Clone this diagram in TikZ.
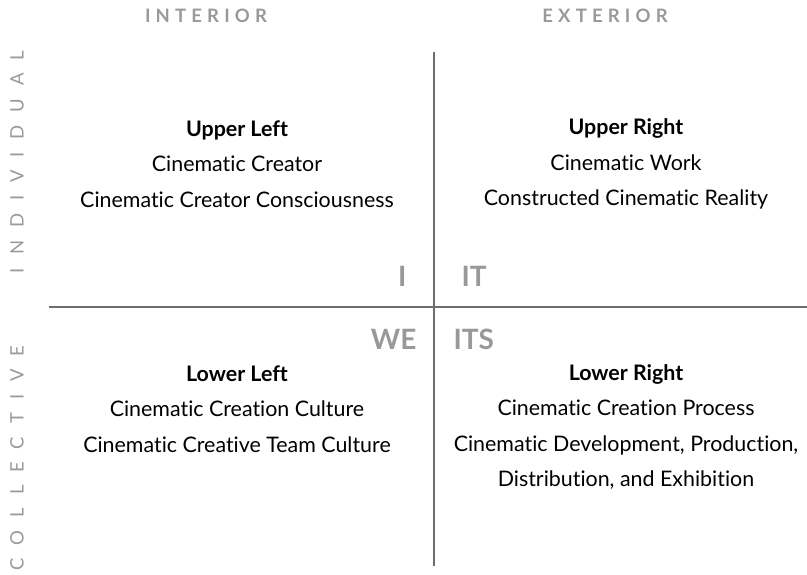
\documentclass[tikz,border=0pt]{standalone}
\usepackage{fontspec}
\setmainfont[RawFeature={-liga;-clig;-calt}]{Lato}
\newfontfamily\headfont[LetterSpace=28]{Lato}
\newfontfamily\sidefont[LetterSpace=70]{Lato}
\definecolor{labelgray}{HTML}{999999}
\definecolor{linegray}{HTML}{6E6E6E}

\begin{document}
\begin{tikzpicture}[x=1pt,y=-1pt,
  axis line/.style={draw=linegray,line width=1.6pt},
  head label/.style={text=labelgray,font=\headfont\fontsize{18.5}{20}\selectfont\bfseries},
  side label/.style={text=labelgray,rotate=90,font=\sidefont\fontsize{18.5}{20}\selectfont},
  quad label/.style={text=labelgray,font=\fontsize{28}{30}\selectfont\bfseries},
  quad text/.style={align=center,text=black,font=\fontsize{21.4}{35.5}\selectfont}]

  \useasboundingbox (0,0) rectangle (807,575);

  % axes
  \coordinate (top) at (434,52);
  \coordinate (bottom) at (434,566);
  \coordinate (left) at (49,307);
  \coordinate (right) at (807,307);
  \draw[axis line] (top) -- (bottom);
  \draw[axis line] (left) -- (right);

  % headings
  \node[head label] (interior) at (206,16) {INTERIOR};
  \node[head label] (exterior) at (605,16) {EXTERIOR};
  \node[side label] (individual) at (17,162) {INDIVIDUAL};
  \node[side label] (collective) at (17,458) {COLLECTIVE};

  % quadrant names
  \node[quad label,anchor=east] (i) at (410,276) {I};
  \node[quad label,anchor=west] (it) at (458,276) {IT};
  \node[quad label,anchor=east] (we) at (420,339) {WE};
  \node[quad label,anchor=west] (its) at (450,339) {ITS};

  % quadrant texts
  \node[quad text] (ul) at (237,164) {\textbf{Upper Left}\\Cinematic Creator\\Cinematic Creator Consciousness};
  \node[quad text] (ur) at (626,164) {\textbf{Upper Right}\\Cinematic Work\\Constructed Cinematic Reality};
  \node[quad text] (ll) at (237,409) {\textbf{Lower Left}\\Cinematic Creation Culture\\Cinematic Creative Team Culture};
  \node[quad text] (lr) at (626,427) {\textbf{Lower Right}\\Cinematic Creation Process\\Cinematic Development, Production,\\Distribution, and Exhibition};

\end{tikzpicture}
\end{document}
